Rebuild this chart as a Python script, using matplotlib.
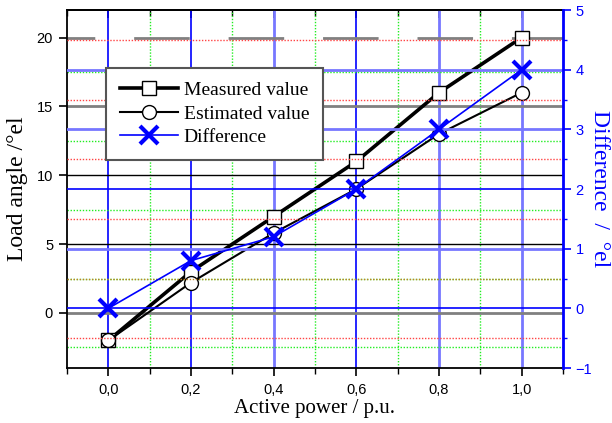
import matplotlib
matplotlib.use('Agg')
import matplotlib.pyplot as plt
import numpy as np

power = [0.0, 0.2, 0.4, 0.6, 0.8, 1.0]
measured = [-2, 3, 7, 11, 16, 20]
estimated = [-2, 2.2, 5.8, 9, 13, 16]
difference = [0, 0.8, 1.2, 2, 3, 4]

x_ticks = [0.0, 0.2, 0.4, 0.6, 0.8, 1.0]
x_labels = ['0,0', '0,2', '0,4', '0,6', '0,8', '1,0']

serif = 'Liberation Serif'
sans = 'Liberation Sans'

blue = '#0000ff'
lblue = '#7777ff'
green = '#22ee22'
red = '#ff4444'
gray = '#808080'

fig = plt.figure(figsize=(6.12, 4.23), dpi=100)
ax = fig.add_axes([67/612, 1-368/423, (563-67)/612, (368-10)/423])
ax2 = ax.twinx()

ax.set_xlim(-0.1, 1.1)
ax.set_ylim(-4, 22)
ax2.set_ylim(-1, 5)

# vertical grid: major blue, minor green dotted
vcol = {0.0: (blue, 1.2), 0.2: (blue, 1.2), 0.4: (lblue, 2), 0.6: (blue, 1.2),
        0.8: (lblue, 2), 1.0: (lblue, 2)}
for xv in x_ticks:
    c, lw = vcol[xv]
    ax.axvline(xv, color=c, lw=lw, zorder=1)
for xv in np.arange(0.1, 1.0, 0.2):
    ax.axvline(xv, color=green, lw=1, ls=(0, (1, 1.2)), zorder=1)

# left axis grid
ax.axhline(20, color=gray, lw=2, ls=(10, (20, 14)), zorder=1)
ax.axhline(15, color=gray, lw=2, zorder=1)
ax.axhline(10, color='black', lw=1, zorder=1)
ax.axhline(5, color='black', lw=1, zorder=1)
ax.axhline(0, color=gray, lw=2, zorder=1)
for yv in [17.5, 12.5, 7.5, 2.5, -2.5]:
    ax.axhline(yv, color=green, lw=1, ls=(0, (1, 1.2)), zorder=1)

# right axis grid
rcol = {4: (lblue, 2), 3: (lblue, 2), 2: (blue, 1.2), 1: (lblue, 2), 0: (blue, 1.2)}
for yv, (c, lw) in rcol.items():
    ax2.axhline(yv, color=c, lw=lw, zorder=1)
for yv in [4.5, 3.5, 2.5, 1.5, 0.5, -0.5]:
    c = '#c08020' if yv == 0.5 else red
    ax2.axhline(yv, color=c, lw=1, ls=(0, (1, 1.2)), zorder=1)

# data
l1, = ax.plot(power, measured, color='black', lw=2.6, marker='s', ms=9.5,
              mfc='white', mec='black', mew=1, zorder=5, label='Measured value')
l2, = ax.plot(power, estimated, color='black', lw=1.5, marker='o', ms=10,
              mfc='white', mec='black', mew=1, zorder=5, label='Estimated value')
l3, = ax2.plot(power, difference, color=blue, lw=1.2, marker='x', ms=13,
               mew=3, zorder=6, label='Difference')

ax2.set_zorder(ax.get_zorder() + 1)
ax2.patch.set_visible(False)

ax.set_xticks(x_ticks)
ax.set_xticklabels(x_labels)
ax.set_xticks(np.arange(-0.1, 1.11, 0.2), minor=True)
ax.set_yticks([0, 5, 10, 15, 20])
ax2.set_yticks([-1, 0, 1, 2, 3, 4, 5])
ax2.set_yticks([-0.5, 0.5, 1.5, 2.5, 3.5, 4.5], minor=True)

for lab in ax.get_xticklabels() + ax.get_yticklabels() + ax2.get_yticklabels():
    lab.set_fontfamily(sans)
    lab.set_fontsize(10.5)

ax.tick_params(axis='x', which='major', direction='out', length=6, width=1.2, pad=5)
ax.tick_params(axis='x', which='minor', direction='out', length=4, width=1)
ax.tick_params(axis='y', which='major', direction='out', length=6, width=1.2, pad=4)
ax2.tick_params(axis='y', which='major', direction='out', length=6, width=1.2,
                colors=blue, pad=3)
ax2.tick_params(axis='y', which='minor', direction='out', length=3, width=1,
                colors=blue)

# inward ticks on the top edge
top = ax.secondary_xaxis('top')
top.set_xticks(x_ticks)
top.set_xticks(np.arange(-0.1, 1.11, 0.2), minor=True)
top.set_xticklabels([])
top.tick_params(which='major', direction='in', length=6, width=1.2)
top.tick_params(which='minor', direction='in', length=4, width=1)
top.spines['top'].set_linewidth(1.3)

for s in ['left', 'bottom', 'top']:
    ax.spines[s].set_linewidth(1.3)
ax2.spines['right'].set_color(blue)
ax2.spines['right'].set_linewidth(2)
for s in ['left', 'bottom', 'top']:
    ax2.spines[s].set_visible(False)

ax.set_xlabel('Active power / p.u.', family=serif, fontsize=15, labelpad=1)
ax.set_ylabel('Load angle /°el', family=serif, fontsize=17, labelpad=6)
ax2.set_ylabel('Difference  /  °el', family=serif, fontsize=17, color=blue,
               rotation=-90, labelpad=13)

leg = ax2.legend(handles=[l1, l2, l3], loc='upper left',
                 bbox_to_anchor=(106/612, 1-68/423), bbox_transform=fig.transFigure,
                 prop={'family': serif, 'size': 14}, fancybox=False, framealpha=1,
                 edgecolor='#555555', handlelength=3.0, handletextpad=0.3,
                 borderpad=0.7, labelspacing=0.3, borderaxespad=0)
leg.get_frame().set_linewidth(1.5)

fig.savefig('out.png', dpi=100)
